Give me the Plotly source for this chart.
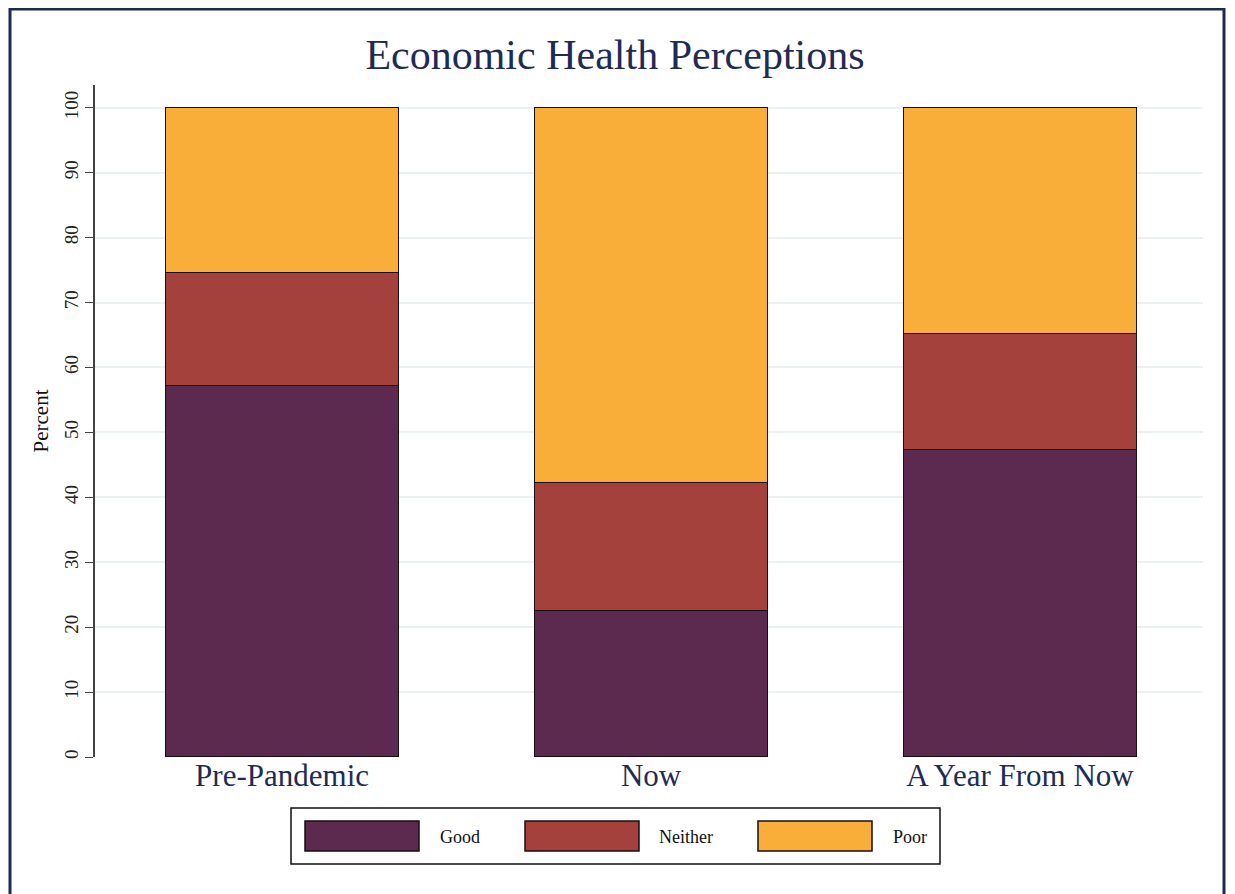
import plotly.graph_objects as go

categories = ["Pre-Pandemic", "Now", "A Year From Now"]
series_names = ["Good", "Neither", "Poor"]
good = [57.2, 22.6, 47.4]
neither = [17.4, 19.7, 17.8]
poor = [25.4, 57.7, 34.8]
colors = ["#5c294f", "#a4413c", "#f9ae3a"]
y_ticks = [0, 10, 20, 30, 40, 50, 60, 70, 80, 90, 100]

W, H = 1235, 894
OFF = 8  # page body margin
# plot area in screen pixels: left 95, right 1203, top 85, bottom 757
ML = 95 - OFF
MT = 85 - OFF
MR = W - (1203 - OFF)
MB = H - (757 - OFF)
PW, PH = W - ML - MR, H - MT - MB

def px(x):
    return (x - OFF - ML) / PW

def py(y):
    return (H - MB - (y - OFF)) / PH

SERIF = "Liberation Serif"
NAVY = "#1e2c55"

fig = go.Figure()
for name, vals, col in zip(series_names, [good, neither, poor], colors):
    fig.add_trace(go.Bar(
        x=categories, y=vals, name=name,
        marker=dict(color=col, line=dict(color="#1a0d10", width=1.2)),
        showlegend=False,
    ))

shapes = []
annotations = []
# outer frame
shapes.append(dict(type="rect", xref="paper", yref="paper",
                   x0=px(10), x1=px(1224), y0=py(910), y1=py(9),
                   line=dict(color="#1c2b52", width=3), fillcolor="rgba(0,0,0,0)", layer="below"))
# legend box
shapes.append(dict(type="rect", xref="paper", yref="paper",
                   x0=px(291), x1=px(940), y0=py(864), y1=py(808),
                   line=dict(color="#111111", width=1.5), fillcolor="white"))
sw_left = [305, 525, 758]
lab_left = [438, 657, 891]
for name, col, sl, ll in zip(series_names, colors, sw_left, lab_left):
    shapes.append(dict(type="rect", xref="paper", yref="paper",
                       x0=px(sl), x1=px(sl + 114), y0=py(851), y1=py(821),
                       line=dict(color="#1a0d10", width=1.5), fillcolor=col))
    annotations.append(dict(xref="paper", yref="paper", x=px(ll), y=py(837),
                            xanchor="left", yanchor="middle", text=name, showarrow=False,
                            font=dict(family=SERIF, size=18, color="#111111")))

fig.update_layout(
    width=W, height=H,
    margin=dict(l=ML, r=MR, t=MT, b=MB),
    barmode="stack", bargap=0.37,
    paper_bgcolor="white", plot_bgcolor="white",
    title=dict(text="Economic Health Perceptions", x=(615 - OFF) / W, xanchor="center",
               y=1 - (54 - OFF) / H, yanchor="middle", yref="container",
               font=dict(family=SERIF, size=42, color=NAVY)),
    shapes=shapes, annotations=annotations,
    xaxis=dict(range=[-0.507, 2.496], showline=False, showgrid=False, ticks="",
               tickfont=dict(family=SERIF, size=31, color=NAVY), zeroline=False,
               ticklabelstandoff=-3),
    yaxis=dict(range=[0, 103.5], tickvals=y_ticks, ticks="outside", ticklen=8,
               tickcolor="#444444", tickwidth=1.3, tickangle=-90,
               tickfont=dict(family=SERIF, size=19, color="#222222"),
               showline=True, linecolor="#444444", linewidth=1.5,
               showgrid=True, gridcolor="#ebf1f3", gridwidth=1.5, zeroline=False,
               title=dict(text="Percent", standoff=6,
                          font=dict(family=SERIF, size=21, color="#111111"))),
)

fig.write_html("out.html")
